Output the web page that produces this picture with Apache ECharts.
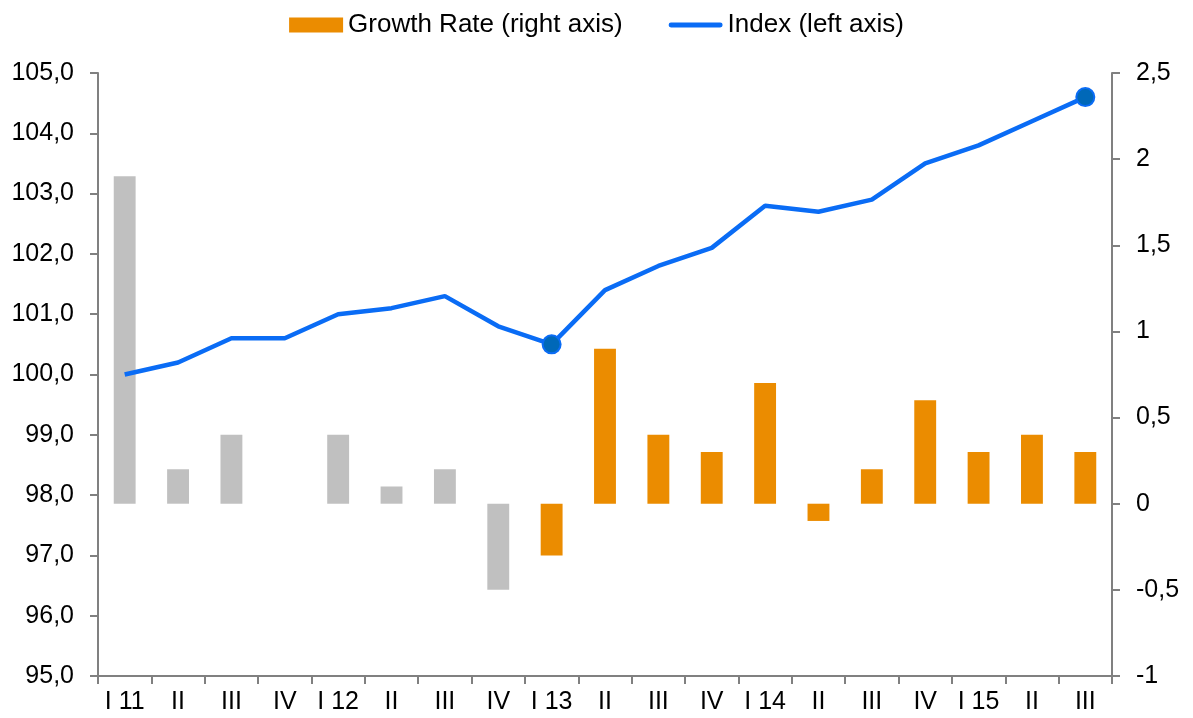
<!DOCTYPE html>
<html>
<head>
<meta charset="utf-8">
<script src="https://cdn.jsdelivr.net/npm/echarts@6/dist/echarts.min.js"></script>
<style>
  html, body { margin: 0; padding: 0; background: #fff; }
  #chart { width: 1193px; height: 718px; }
</style>
</head>
<body>
<div id="chart"></div>
<script>
// quarters
const categories = ["I 11", "II", "III", "IV", "I 12", "II", "III", "IV", "I 13", "II", "III", "IV", "I 14", "II", "III", "IV", "I 15", "II", "III"]
// growth rate, right axis
const growthRate = [1.9, 0.2, 0.4, 0, 0.4, 0.1, 0.2, -0.5, -0.3, 0.9, 0.4, 0.3, 0.7, -0.1, 0.2, 0.6, 0.3, 0.4, 0.3]
// index, left axis
const indexValues = [100.0, 100.2, 100.6, 100.6, 101.0, 101.1, 101.3, 100.8, 100.5, 101.4, 101.8, 102.1, 102.8, 102.7, 102.9, 103.5, 103.8, 104.2, 104.6]
// first bars drawn gray
const grayCount = 8
// points with a marker
const markedPoints = [8, 18]

const ORANGE = "#eb8c00"
const GRAY = "#c0c0c0"
const BLUE = "#0a6cf5"
const FONT = "Liberation Sans, Arial, sans-serif"

const chart = echarts.init(document.getElementById("chart"))

const axisLine = { show: true, onZero: false, lineStyle: { color: "#808080", width: 2 } }
const axisTick = { show: true, length: 8, lineStyle: { color: "#808080", width: 2 } }

const option = {
  animation: false,
  textStyle: { fontFamily: FONT },
  legend: {
    top: 7,
    left: "center",
    itemGap: 46,
    itemWidth: 54,
    itemHeight: 15,
    textStyle: { fontSize: 26, color: "#000", fontFamily: FONT },
    data: [
      { name: "Growth Rate (right axis)", icon: "rect" },
      { name: "Index (left axis)", icon: "path://M2.5,0 H53.5 A2.5,2.5 0 0 1 53.5,5 H2.5 A2.5,2.5 0 0 1 2.5,0 Z" }
    ]
  },
  grid: { left: 98, right: 81, top: 73, bottom: 42 },
  xAxis: {
    type: "category",
    data: categories,
    boundaryGap: true,
    axisLine: axisLine,
    axisTick: axisTick,
    axisLabel: { color: "#000", fontSize: 25, margin: 14, interval: 0, fontFamily: FONT },
    splitLine: { show: false }
  },
  yAxis: [
    {
      type: "value",
      min: 95,
      max: 105,
      interval: 1,
      position: "left",
      axisLine: axisLine,
      axisTick: axisTick,
      splitLine: { show: false },
      axisLabel: {
        color: "#000", fontSize: 25, margin: 24, fontFamily: FONT,
        formatter: v => v.toFixed(1).replace(".", ",")
      }
    },
    {
      type: "value",
      min: -1,
      max: 2.5,
      interval: 0.5,
      position: "right",
      axisLine: axisLine,
      axisTick: axisTick,
      splitLine: { show: false },
      axisLabel: {
        color: "#000", fontSize: 25, margin: 24, fontFamily: FONT,
        formatter: v => String(v).replace(".", ",")
      }
    }
  ],
  series: [
    {
      name: "Growth Rate (right axis)",
      type: "bar",
      yAxisIndex: 1,
      barWidth: "41%",
      itemStyle: { color: ORANGE },
      data: growthRate.map((v, i) => ({
        value: v,
        itemStyle: { color: i < grayCount ? GRAY : ORANGE }
      }))
    },
    {
      name: "Index (left axis)",
      type: "line",
      yAxisIndex: 0,
      symbol: "none",
      lineStyle: { color: BLUE, width: 4.5 },
      itemStyle: { color: BLUE },
      z: 5,
      data: indexValues.map((v, i) => markedPoints.includes(i)
        ? { value: v, symbol: "circle", symbolSize: 18, itemStyle: { color: "#0068b8", borderColor: BLUE, borderWidth: 2 } }
        : v)
    }
  ]
}

chart.setOption(option)
</script>
</body>
</html>
